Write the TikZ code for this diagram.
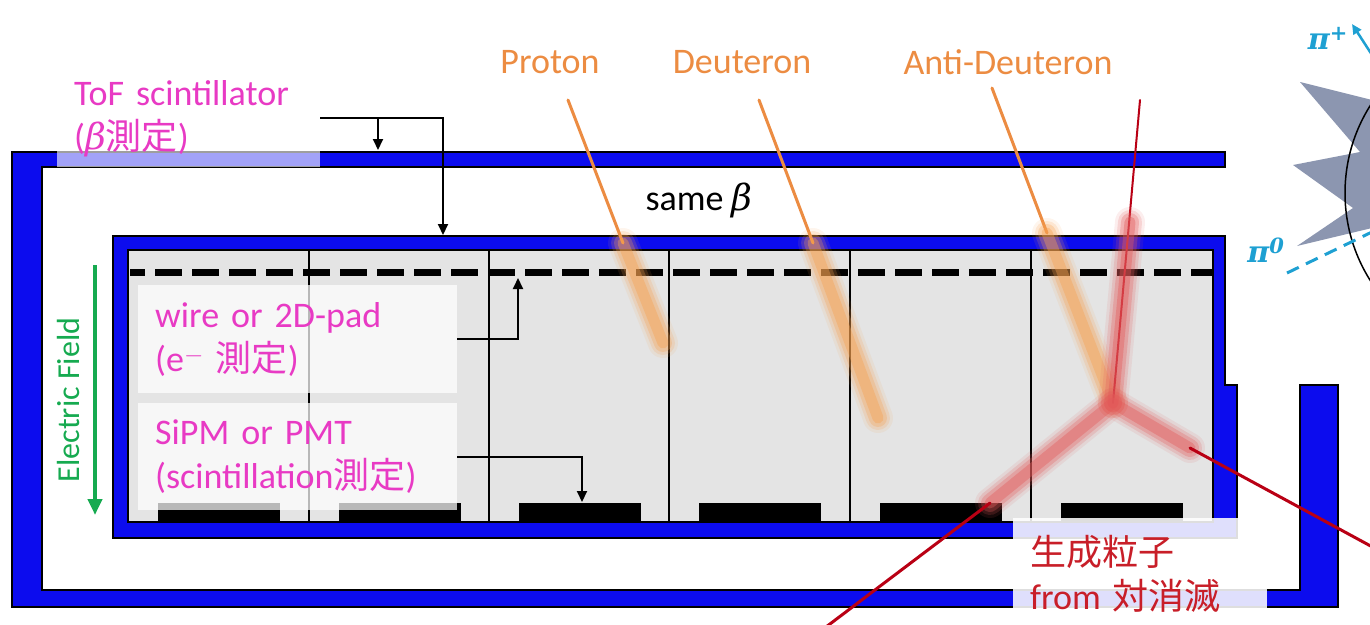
\documentclass[tikz,border=0pt]{standalone}
\usepackage{fontspec}
\setmainfont{Carlito}
\newfontfamily\jp{Noto Sans CJK JP}
\newfontfamily\grk{DejaVu Serif}
\usetikzlibrary{positioning, calc, arrows.meta}

\definecolor{vesselblue}{RGB}{12,12,238}
\definecolor{cellgray}{RGB}{228,228,228}
\definecolor{labelpink}{RGB}{232,58,196}
\definecolor{trackorange}{RGB}{236,140,66}
\definecolor{glowor}{RGB}{246,160,80}
\definecolor{trackred}{RGB}{185,0,20}
\definecolor{glowred}{RGB}{226,90,90}
\definecolor{annired}{RGB}{200,30,40}
\definecolor{fieldgreen}{RGB}{22,170,80}
\definecolor{pioncyan}{RGB}{30,160,210}
\definecolor{stargray}{RGB}{140,150,176}

\newcommand\bt{{\grk\itshape β}}
\newcommand\pion[1]{{\grk\bfseries\itshape π\textsuperscript{#1}}}

\tikzset{
  wall/.style={fill=vesselblue, draw=black, line width=1.2pt},
  veil/.style={fill=white, fill opacity=#1, text opacity=1, draw=none, inner xsep=17pt, inner ysep=0pt, align=left},
  lbl/.style={font=\fontsize{36}{44}\selectfont},
  feed/.style={draw=black, line width=2pt, -{Triangle[length=11pt,width=10pt]}},
  thintrack/.style={line width=3pt, line cap=round},
  pionlbl/.style={text=pioncyan, font=\fontsize{30}{32}\selectfont}
}

% soft wide track segment
\newcommand\glowtrack[3]{%
  \foreach \w/\o in {30/0.10, 24/0.18, 18/0.28, 11/0.4}
    \draw[#1, line width=\w pt, opacity=\o, line cap=round] (#2) -- (#3);
}

\begin{document}
\begin{tikzpicture}[x=1pt, y=-1pt]
\useasboundingbox (0,0) rectangle (1370,624);
\clip (0,0) rectangle (1370,624);

% outer vessel
\draw[wall] (12,152) -- (1225,152) -- (1225,167) -- (42,167) -- (42,590) -- (1300,590)
  -- (1300,385) -- (1338,385) -- (1338,607) -- (12,607) -- cycle;

% inner vessel, gas volume
\fill[cellgray] (128,250) rectangle (1213,522);
\draw[wall, even odd rule] (113,236) -- (1225,236) -- (1225,385) -- (1237,385) -- (1237,538)
  -- (113,538) -- cycle (128,250) rectangle (1213,522);

% readout mesh
\draw[line width=7pt, dash pattern=on 27pt off 10pt, dash phase=12pt] (130,272) -- (1213,272);

% pads and cell walls
\foreach \cx in {128,309,489,669,850,1031}
  \fill (\cx+30,503) rectangle (\cx+152,522);
\foreach \cx in {309,489,669,850,1031}
  \draw[line width=1.5pt] (\cx,250) -- (\cx,522);

% readout labels
\node[veil=.72, lbl, text=labelpink, minimum width=319pt, minimum height=108pt, text width=285pt, anchor=north west] (wirebox) at (138,285) {wire or 2D-pad\\(e$^{-}$ {\jp 測定})};
\node[veil=.72, lbl, text=labelpink, minimum width=319pt, minimum height=107pt, text width=285pt, anchor=north west] (sipmbox) at (138,403) {SiPM or PMT\\(scintillation{\jp 測定})};
\coordinate (meshpt) at (518,278);
\coordinate (padpt) at (582,502);
\draw[feed] (wirebox.east) -| (meshpt);
\draw[feed] (sipmbox.east) -| (padpt);

% ToF label over the outer wall
\node[veil=.62, lbl, text=labelpink, minimum width=263pt, minimum height=97pt, text width=229pt, anchor=south west] (tof) at (57,167) {ToF scintillator\\(\bt{\jp 測定})};
\coordinate (outertop) at (378,150);
\coordinate (innertop) at (443,235);
\draw[feed] (tof.east) -| (innertop);
\draw[feed] (outertop |- tof.east) -- (outertop);

\node[lbl] (samebeta) at (699,200) {same \bt};

% incoming particles
\node[lbl, text=trackorange] (proton) at (550,62) {Proton};
\node[lbl, text=trackorange] (deuteron) at (742,62) {Deuteron};
\node[lbl, text=trackorange] (antid) at (1008,62) {Anti-Deuteron};

\coordinate (p-a) at (568,100);
\coordinate (p-b) at (623,243);
\coordinate (p-c) at (663,343);
\coordinate (d-a) at (759,100);
\coordinate (d-b) at (813,243);
\coordinate (d-c) at (878,418);
\coordinate (a-a) at (992,88);
\coordinate (a-b) at (1047,233);
\coordinate (vtx) at (1113,403);

\draw[thintrack, trackorange] (p-a) -- (p-b);
\draw[thintrack, trackorange] (d-a) -- (d-b);
\draw[thintrack, trackorange] (a-a) -- (a-b);
\glowtrack{glowor}{p-b}{p-c}
\glowtrack{glowor}{d-b}{d-c}
\glowtrack{glowor}{a-b}{vtx}

% annihilation products
\coordinate (r-up) at (1140,100);
\coordinate (r-upg) at (1130,222);
\coordinate (r-left) at (990,503);
\coordinate (r-lout) at (822,630);
\coordinate (r-right) at (1190,448);
\coordinate (r-rout) at (1378,550);

\draw[thintrack, trackred, line width=2pt] (r-up) -- (vtx);
\glowtrack{glowred}{vtx}{r-upg}
\glowtrack{glowred}{vtx}{r-left}
\glowtrack{glowred}{vtx}{r-right}
\draw[thintrack, trackred] (r-left) -- (r-lout);
\draw[thintrack, trackred] (r-right) -- (r-rout);

\node[veil=.87, lbl, text=annired, minimum width=254pt, minimum height=111pt, text width=220pt, anchor=north west] (prodlbl) at (1013,518) {{\jp 生成粒子}\\from {\jp 対消滅}};

% annihilation star
\fill[stargray] (1372,100) -- (1300,82) -- (1360,152) -- (1293,165) -- (1353,208) -- (1297,246) -- (1372,228) -- cycle;
\draw[line width=1.5pt] (1509,193) circle (164pt);

\node[pionlbl] (piplus) at (1328,38) {\pion{+}};
\coordinate (piplus-tip) at (1352,24);
\draw[pioncyan, line width=2.5pt, -{Triangle[length=10pt,width=9pt]}] (1374,58) -- (piplus-tip);
\node[pionlbl] (pizero) at (1266,250) {\pion{0}};
\coordinate (pizero-a) at (1287,273);
\coordinate (pizero-b) at (1374,231);
\draw[pioncyan, line width=3pt, dash pattern=on 13pt off 8pt] (pizero-a) -- (pizero-b);

% drift field
\coordinate (efield-top) at (95,265);
\coordinate (efield-bot) at (95,515);
\draw[fieldgreen, line width=4pt, -{Triangle[length=16pt,width=14pt]}] (efield-top) -- (efield-bot);
\node[font=\fontsize{32}{34}\selectfont, text=fieldgreen, rotate=90] (efield) at (69,400) {Electric Field};

\end{tikzpicture}
\end{document}
